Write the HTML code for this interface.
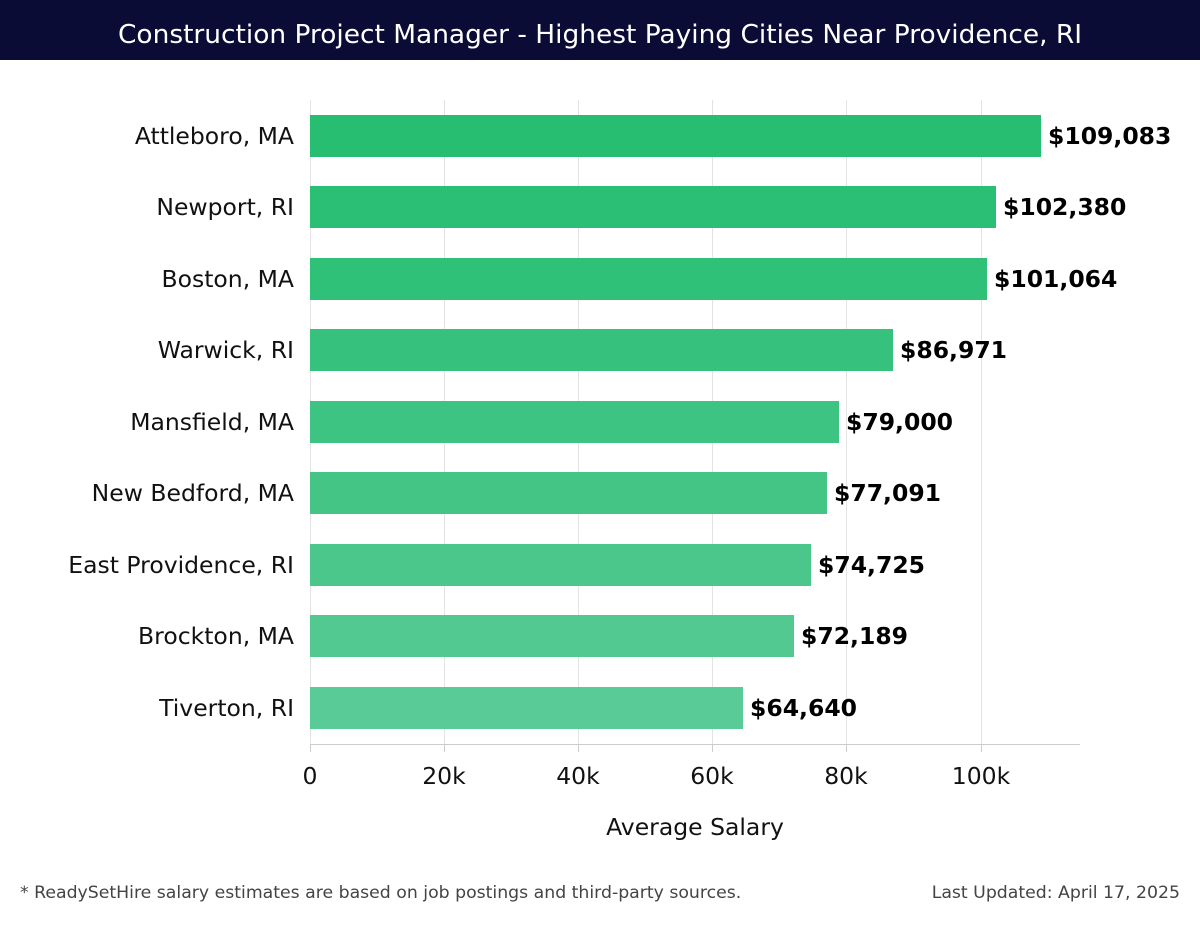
<!DOCTYPE html>
<html><head><meta charset="utf-8"><style>
body{margin:0;width:1200px;height:920px;background:#fff;overflow:hidden}
text{font-family:"DejaVu Sans","Liberation Sans",sans-serif}
</style></head><body>
<svg width="1200" height="920" xmlns="http://www.w3.org/2000/svg">
<rect x="0" y="0" width="1200" height="60" fill="#0b0c36"/>
<text x="600" y="43" text-anchor="middle" font-size="26" fill="#fff" textLength="964" lengthAdjust="spacingAndGlyphs">Construction Project Manager - Highest Paying Cities Near Providence, RI</text>
<g stroke="#e3e3e3" stroke-width="1">
<line x1="310.5" y1="100" x2="310.5" y2="745"/>
<line x1="444.5" y1="100" x2="444.5" y2="745"/>
<line x1="578.5" y1="100" x2="578.5" y2="745"/>
<line x1="712.5" y1="100" x2="712.5" y2="745"/>
<line x1="846.5" y1="100" x2="846.5" y2="745"/>
<line x1="981.5" y1="100" x2="981.5" y2="745"/>
</g>
<line x1="310" y1="744.5" x2="1080" y2="744.5" stroke="#ccc"/>
<g stroke="#ccc"><line x1="310.5" y1="745" x2="310.5" y2="752"/><line x1="444.5" y1="745" x2="444.5" y2="752"/><line x1="578.5" y1="745" x2="578.5" y2="752"/><line x1="712.5" y1="745" x2="712.5" y2="752"/><line x1="846.5" y1="745" x2="846.5" y2="752"/><line x1="981.5" y1="745" x2="981.5" y2="752"/></g>
<g>
<rect x="310" y="115" width="731" height="42" fill="#27be72"/>
<rect x="310" y="186" width="686" height="42" fill="#2bbf76"/>
<rect x="310" y="258" width="677" height="42" fill="#30c179"/>
<rect x="310" y="329" width="583" height="42" fill="#36c27d"/>
<rect x="310" y="401" width="529" height="42" fill="#3dc482"/>
<rect x="310" y="472" width="517" height="42" fill="#44c586"/>
<rect x="310" y="544" width="501" height="42" fill="#4bc78b"/>
<rect x="310" y="615" width="484" height="42" fill="#52c990"/>
<rect x="310" y="687" width="433" height="42" fill="#59cb96"/>
</g>
<g font-size="23.5" fill="#111" text-anchor="end">
<text x="294" y="144">Attleboro, MA</text>
<text x="294" y="215">Newport, RI</text>
<text x="294" y="287">Boston, MA</text>
<text x="294" y="358">Warwick, RI</text>
<text x="294" y="430">Mansfield, MA</text>
<text x="294" y="501">New Bedford, MA</text>
<text x="294" y="573">East Providence, RI</text>
<text x="294" y="644">Brockton, MA</text>
<text x="294" y="716">Tiverton, RI</text>
</g>
<g font-size="23.5" font-weight="bold" fill="#000">
<text x="1048" y="144">$109,083</text>
<text x="1003" y="215">$102,380</text>
<text x="994" y="287">$101,064</text>
<text x="900" y="358">$86,971</text>
<text x="846" y="430">$79,000</text>
<text x="834" y="501">$77,091</text>
<text x="818" y="573">$74,725</text>
<text x="801" y="644">$72,189</text>
<text x="750" y="716">$64,640</text>
</g>
<g font-size="23.5" fill="#111" text-anchor="middle">
<text x="310" y="784">0</text><text x="444" y="784">20k</text><text x="578" y="784">40k</text><text x="712" y="784">60k</text><text x="846" y="784">80k</text><text x="981" y="784">100k</text>
<text x="695" y="835">Average Salary</text>
</g>
<text x="20" y="898" font-size="17.3" fill="#444">* ReadySetHire salary estimates are based on job postings and third-party sources.</text>
<text x="1180" y="898" font-size="17.3" fill="#444" text-anchor="end">Last Updated: April 17, 2025</text>
</svg>
</body></html>
